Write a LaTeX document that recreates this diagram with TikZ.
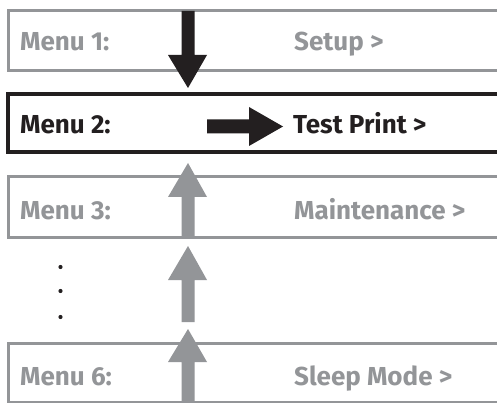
\documentclass[tikz,border=0pt]{standalone}
\usepackage{fontspec}
\setmainfont{Fira Sans}
\definecolor{mgray}{HTML}{939598}
\definecolor{mblack}{HTML}{231F20}
\begin{document}
\begin{tikzpicture}[x=1pt,y=-1pt,
  graybox/.style={draw=mgray,line width=3pt},
  blackbox/.style={draw=mblack,line width=4pt},
  lbl/.style={anchor=base west,inner sep=0pt,font=\fontsize{26}{30}\selectfont\bfseries},
  garrow/.style={fill=mgray},
  barrow/.style={fill=mblack}]
\useasboundingbox (0,0) rectangle (497,403);
\clip (0,0) rectangle (497,403);
\fill[white] (0,0) rectangle (497,403);
% boxes
\draw[graybox] (520,10.5) -- (8,10.5) -- (8,70.5) -- (520,70.5);
\draw[blackbox] (520,94) -- (8,94) -- (8,152.5) -- (520,152.5);
\draw[graybox] (520,177) -- (8,177) -- (8,237.5) -- (520,237.5);
\draw[graybox] (520,343.5) -- (8,343.5) -- (8,402) -- (520,402);
% labels
\node[lbl,text=mgray] (m1) at (20,51) {Menu 1:};
\node[lbl,text=mgray] (s1) at (294,51) {Setup >};
\node[lbl,text=mblack] (m2) at (20,133.5) {Menu 2:};
\node[lbl,text=mblack] (s2) at (293,133.5) {Test Print >};
\node[lbl,text=mgray] (m3) at (20,219) {Menu 3:};
\node[lbl,text=mgray] (s3) at (294,219) {Maintenance >};
\node[lbl,text=mgray] (m6) at (20,385.5) {Menu 6:};
\node[lbl,text=mgray] (s6) at (294,385.5) {Sleep Mode >};
% dots
\foreach \yy in {267,291,317} \fill[mblack] (60.5,\yy) circle (2.1);
% down arrow
\fill[barrow] (181.5,11) -- (194.5,11) -- (194.5,55) -- (207,55) -- (188,88) -- (168,55) -- (181.5,55) -- cycle;
% right arrow
\fill[barrow] (207,119.5) -- (249,119.5) -- (249,107) -- (283,126.5) -- (249,146) -- (249,133.5) -- (207,133.5) -- cycle;
% up arrows
\fill[garrow] (181.5,237) -- (181.5,197) -- (168,197) -- (188,163) -- (207,197) -- (194.5,197) -- (194.5,237) -- cycle;
\fill[garrow] (181.5,322) -- (181.5,280) -- (168,280) -- (188,246) -- (207,280) -- (194.5,280) -- (194.5,322) -- cycle;
\fill[garrow] (181.5,405) -- (181.5,362) -- (168,362) -- (188,329) -- (207,362) -- (194.5,362) -- (194.5,405) -- cycle;
\end{tikzpicture}
\end{document}
